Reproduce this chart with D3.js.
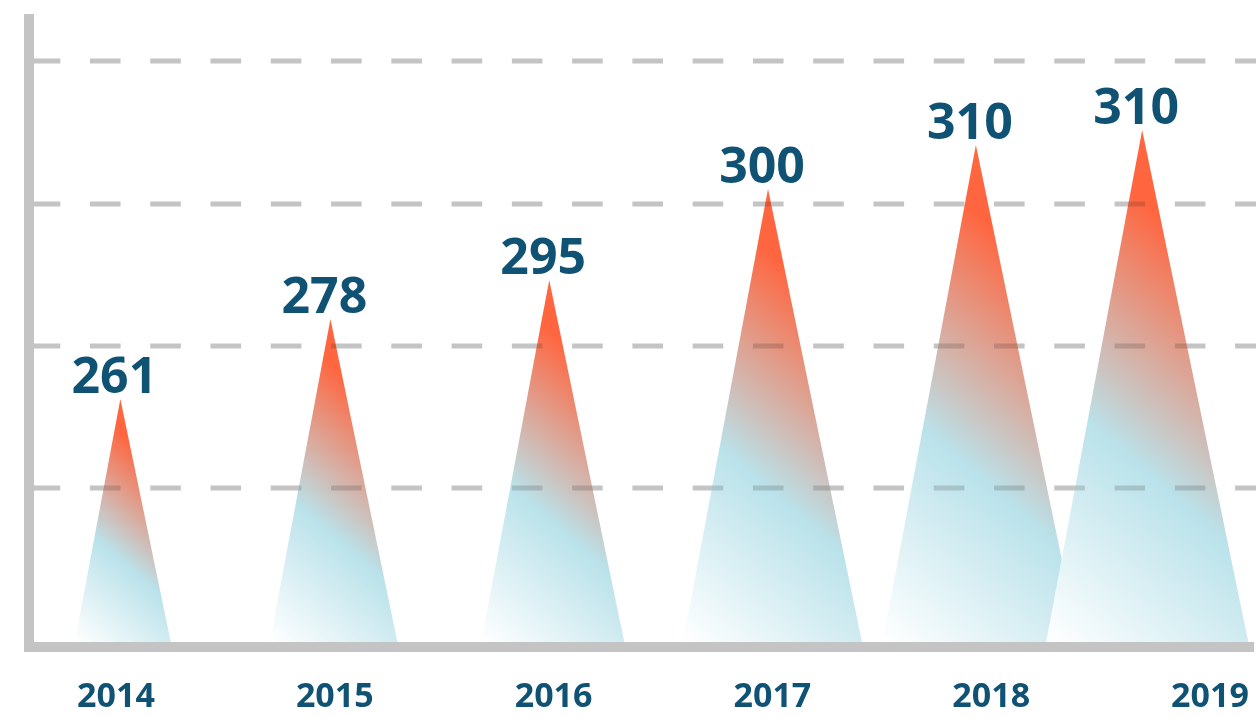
<!DOCTYPE html>
<head>
  <meta charset="utf-8">
  <title>Peaks by year</title>
  <script src="https://d3js.org/d3.v7.min.js"></script>
  <style type="text/css">
    body {margin: 0; background: #fff;}
    .label {font-family: 'Open Sans'; font-weight: 700; text-anchor: middle;}
  </style>
</head>

<body>
  <div id="viz"></div>
</body>

<script type="text/javascript">

  const years = ["2014", "2015", "2016", "2017", "2018", "2019"];
  const values = [261, 278, 295, 300, 310, 310];
  // peak heights in chart units (the drawing is not to value scale)
  const peaks = [243, 323, 362, 453, 497, 512];
  // where each peak sits, in year-slot units
  const peakPos = [0.02, 0.98, 1.98, 2.98, 3.93, 4.69];
  const gridTicks = [154, 296, 438, 581];

  const colorSet = {
    "axis": "#c4c4c4",
    "text": "#105274",
    "top": "#ff6640",
    "mid": "#bae2ea",
    "bottom": "#ffffff"
  };

  const FULLW = 1256;
  const FULLH = 717;
  const BASE = 642;      // top edge of the x axis bar
  const AXISX = 29;      // centre of the y axis bar
  const AXISW = 10;

  const x = d3.scaleLinear().domain([0, 5]).range([116, 1210]);
  const y = d3.scaleLinear().domain([0, 630]).range([BASE, 12]);

  // triangle shape: width is a fixed share of height, apex a bit left of centre
  const LEFTK = 0.1876;
  const RIGHTK = 0.2074;
  // gradient direction (top-right orange to bottom-left white)
  const DIR = [-0.656, 0.754];

  const svg = d3.select("#viz")
    .append("svg")
    .attr("width", FULLW)
    .attr("height", FULLH);

  svg.append("rect")
    .attr("width", FULLW)
    .attr("height", FULLH)
    .attr("fill", "#fff");

  const defs = svg.append("defs");
  const clip = defs.append("clipPath").attr("id", "triClip");

  function drawGrid(g) {
    g.selectAll("line")
      .data(gridTicks)
      .join("line")
      .attr("x1", AXISX + 0.7)
      .attr("x2", FULLW)
      .attr("y1", function (d) { return y(d); })
      .attr("y2", function (d) { return y(d); })
      .attr("stroke", colorSet.axis)
      .attr("stroke-width", 5)
      .attr("stroke-dasharray", "30.6 29.67");
  }

  //dashed gridlines behind everything
  drawGrid(svg.append("g"));

  //triangles
  const tris = svg.append("g");
  peaks.forEach(function (p, i) {
    const ax = x(peakPos[i]);
    const ay = y(p);
    const h = BASE - ay;
    const lx = ax - LEFTK * h;
    const rx = ax + RIGHTK * h;
    const len = (lx - ax) * DIR[0] + h * DIR[1];
    const pts = [lx, BASE, ax, ay, rx, BASE].join(",");

    const grad = defs.append("linearGradient")
      .attr("id", "grad" + i)
      .attr("gradientUnits", "userSpaceOnUse")
      .attr("x1", ax).attr("y1", ay)
      .attr("x2", ax + len * DIR[0]).attr("y2", ay + len * DIR[1]);
    grad.append("stop").attr("offset", 0).attr("stop-color", colorSet.top);
    grad.append("stop").attr("offset", 0.12).attr("stop-color", colorSet.top);
    grad.append("stop").attr("offset", 0.57).attr("stop-color", colorSet.mid);
    grad.append("stop").attr("offset", 1).attr("stop-color", colorSet.bottom);

    tris.append("polygon")
      .attr("points", pts)
      .attr("fill", "url(#grad" + i + ")");

    clip.append("polygon").attr("points", pts);
  });

  //gridlines showing faintly through the triangles
  drawGrid(svg.append("g")
    .attr("clip-path", "url(#triClip)")
    .style("mix-blend-mode", "multiply")
    .attr("opacity", 0.65));

  //axis bars
  svg.append("rect")
    .attr("x", AXISX - AXISW / 2)
    .attr("y", 14)
    .attr("width", AXISW)
    .attr("height", BASE + AXISW - 14)
    .attr("fill", colorSet.axis);

  svg.append("rect")
    .attr("x", AXISX - AXISW / 2)
    .attr("y", BASE)
    .attr("width", 1254 - (AXISX - AXISW / 2))
    .attr("height", AXISW)
    .attr("fill", colorSet.axis);

  //value labels above the peaks
  svg.append("g")
    .selectAll("text")
    .data(values)
    .join("text")
    .classed("label", true)
    .attr("x", function (d, i) { return x(peakPos[i]) - 6; })
    .attr("y", function (d, i) { return y(peaks[i]) - 6; })
    .attr("font-size", 50)
    .attr("fill", colorSet.text)
    .text(function (d) { return d; });

  //year labels
  svg.append("g")
    .selectAll("text")
    .data(years)
    .join("text")
    .classed("label", true)
    .attr("x", function (d, i) { return x(i); })
    .attr("y", 707)
    .attr("font-size", 34)
    .attr("fill", colorSet.text)
    .text(function (d) { return d; });

</script>
</html>
